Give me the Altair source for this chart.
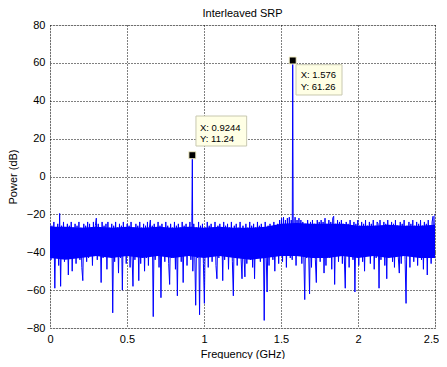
import altair as alt
import numpy as np
import pandas as pd

title_text = "Interleaved SRP"
x_title = "Frequency (GHz)"
y_title = "Power (dB)"
x_ticks = [0, 0.5, 1, 1.5, 2, 2.5]
y_ticks = [-80, -60, -40, -20, 0, 20, 40, 60, 80]
f_start, f_stop = 0.0, 2.5

# noise floor (dB), evenly spaced frequency bins
noise_db = [
    -25, -44, -26, -40, -24, -59, -27, -42, -25, -47, -19.5, -58, -26, -41, -24, -45, -27, -39, -25, -52,
    -26, -43, -24, -50, -27, -40, -25, -46, -26, -38, -24, -44, -27, -48, -55, -25, -41, -26, -45, -24,
    -43, -25, -40, -27, -47, -24, -42, -26, -22, -44, -25, -39, -27, -56, -24, -43, -26, -41, -25, -49,
    -24, -42, -27, -38, -25, -72, -26, -45, -24, -40, -27, -51, -25, -43, -26, -60, -24, -39, -27, -46,
    -25, -41, -26, -48, -24, -42, -58, -27, -44, -25, -39, -26, -55, -24, -46, -27, -40, -25, -50, -26,
    -43, -24, -47, -27, -23, -41, -26, -74, -25, -44, -27, -39, -24, -48, -26, -64, -25, -42, -27, -45,
    -24, -40, -26, -46, -57, -25, -43, -27, -38, -24, -49, -26, -63, -25, -41, -27, -45, -24, -56, -26,
    -42, -25, -47, -27, -39, -24, -44, -26, -50, -25, -41, -68, -27, -43, -24, -73, -26, -40, -25, -46,
    -67, -27, -42, -24, -48, -26, -39, -25, -45, -27, -41, -24, -47, -54, -26, -43, -25, -40, -27, -55,
    -24, -44, -26, -41, -25, -49, -27, -38, -24, -45, -63, -26, -42, -25, -47, -27, -40, -24, -43, -54,
    -26, -41, -53, -25, -46, -27, -39, -24, -44, -26, -48, -25, -54, -27, -42, -24, -40, -26, -45, -25,
    -43, -27, -76, -24, -41, -61, -26, -47, -25, -39, -27, -44, -24, -50, -26, -42, -25, -46, -23, -40,
    -22, -45, -21.5, -41, -23, -48, -22, -39, -21.5, -43, -23, -44, -22, -40, -21.5, -47, -23, -42, -22, -38,
    -23, -46, -24, -41, -65, -25, -43, -23, -39, -62, -24, -48, -23, -42, -25, -44, -56, -23, -40, -24,
    -45, -23, -41, -24, -51, -22, -47, -25, -39, -23, -43, -24, -49, -22, -21, -57, -25, -42, -23, -45,
    -24, -40, -23, -46, -25, -43, -59, -24, -41, -25, -48, -23, -39, -26, -44, -24, -61, -25, -42, -23,
    -47, -26, -40, -24, -45, -25, -50, -23, -42, -26, -38, -24, -46, -25, -41, -23, -49, -26, -43, -24,
    -25, -59, -23, -44, -26, -40, -24, -47, -25, -54, -23, -42, -26, -39, -24, -45, -25, -48, -23, -41,
    -26, -43, -51, -24, -46, -25, -40, -23, -44, -67, -26, -42, -24, -48, -25, -39, -23, -45, -26, -41,
    -24, -47, -25, -40, -23, -44, -26, -49, -24, -42, -25, -52, -23, -43, -26, -46, -24, -21, -41, -20,
]

# solid core of the noise band (every 0.1 GHz)
core_top = [-26.5, -26.5, -27, -26.5, -27, -26.5, -27, -26.5, -27, -26.5, -27, -26.5, -27,
            -27, -26.5, -25, -24.5, -25, -25, -25, -26, -26, -25.5, -26, -26, -25.5]
core_bottom = [-43, -44, -43, -42, -43, -42, -43, -42, -43, -42, -43, -42, -43,
               -44, -43, -42, -42, -43, -43, -42, -43, -42, -43, -42, -43, -43]

peak_freq = [0.9244, 1.576]
peak_db = [11.24, 61.26]

FONT = "Liberation Sans"

bins = np.linspace(f_start, f_stop, len(noise_db))
line_df = pd.DataFrame({"f": list(bins) + peak_freq, "p": noise_db + peak_db}).sort_values("f")
core_df = pd.DataFrame({"f": np.linspace(f_start, f_stop, len(core_top)),
                        "top": core_top, "bot": core_bottom})

peaks_df = pd.DataFrame({"f": peak_freq, "p": peak_db})
peaks_df["xl"] = ["X: " + f"{v:g}" for v in peak_freq]
peaks_df["yl"] = ["Y: " + f"{v:g}" for v in peak_db]

xs = alt.Scale(domain=[f_start, f_stop], nice=False, zero=False)
ys = alt.Scale(domain=[y_ticks[0], y_ticks[-1]], nice=False, zero=False)

x_axis = alt.Axis(values=x_ticks, title=x_title, grid=True, gridColor="black",
                  gridDash=[1, 2], gridOpacity=1, gridWidth=1, tickSize=0,
                  domain=False, labelFont=FONT, labelFontSize=11, labelColor="black",
                  labelPadding=5, labelOverlap=False, labelFlush=False, titleFont=FONT,
                  titleFontSize=11, titleFontWeight="normal", titleColor="black",
                  titlePadding=4, labelExpr="format(datum.value, '~g')",
                  labelOffset={"condition": {"test": "datum.value >= 2.5", "value": -4},
                               "value": 0})
y_axis = alt.Axis(values=y_ticks, title=y_title, grid=True, gridColor="black",
                  gridDash=[1, 2], gridOpacity=1, gridWidth=1, tickSize=0,
                  domain=False, labelFont=FONT, labelFontSize=11, labelColor="black",
                  labelPadding=5, labelOverlap=False, labelFlush=False, titleFont=FONT,
                  titleFontSize=11, titleFontWeight="normal", titleColor="black",
                  titlePadding=8)


def X(field="f"):
    return alt.X(f"{field}:Q", scale=xs, axis=x_axis)


def Y(field="p"):
    return alt.Y(f"{field}:Q", scale=ys, axis=y_axis)


core = alt.Chart(core_df).mark_area(color="#0000ff", opacity=1, clip=True).encode(
    x=X(), y=Y("top"), y2="bot:Q")

line = alt.Chart(line_df).mark_line(color="#0000ff", strokeWidth=1, clip=True).encode(
    x=X(), y=Y())

layers = [core, line]

box_geom = [
    dict(l=3.6, r=54.3, t=-39.2, b=-9.2, dx=7.6, dy1=-27.7, dy2=-16),
    dict(l=3.3, r=49.3, t=4.2, b=34.5, dx=8, dy1=15, dy2=26.5),
]

for i, g in enumerate(box_geom):
    d = peaks_df.iloc[[i]]
    base = alt.Chart(d)
    rect = base.mark_rect(fill="#ffffe5", stroke="#c8c8b0", strokeWidth=1,
                          xOffset=g["l"], x2Offset=g["r"], yOffset=g["t"], y2Offset=g["b"]).encode(
        x=X(), x2="f:Q", y=Y(), y2="p:Q")
    t1 = base.mark_text(align="left", baseline="middle", dx=g["dx"], dy=g["dy1"],
                        font=FONT, fontSize=9.5, color="black").encode(
        x=X(), y=Y(), text="xl:N")
    t2 = base.mark_text(align="left", baseline="middle", dx=g["dx"], dy=g["dy2"],
                        font=FONT, fontSize=9.5, color="black").encode(
        x=X(), y=Y(), text="yl:N")
    layers += [rect, t1, t2]

markers = alt.Chart(peaks_df).mark_square(size=49, color="black", opacity=1,
                                          stroke="#f4f0c8", strokeWidth=1).encode(
    x=X(), y=Y())
layers.append(markers)

chart = alt.layer(*layers).properties(
    width=385, height=303,
    title=alt.TitleParams(title_text, font=FONT, fontSize=11, fontWeight="normal",
                          color="black", anchor="middle", offset=0),
    autosize=alt.AutoSizeParams(type="none"),
    padding={"left": 42, "top": 17, "right": 4, "bottom": 31},
).configure_view(stroke="black", strokeWidth=1).configure(background="white")

chart.save("out.html", embed_options={"renderer": "svg", "actions": False})
